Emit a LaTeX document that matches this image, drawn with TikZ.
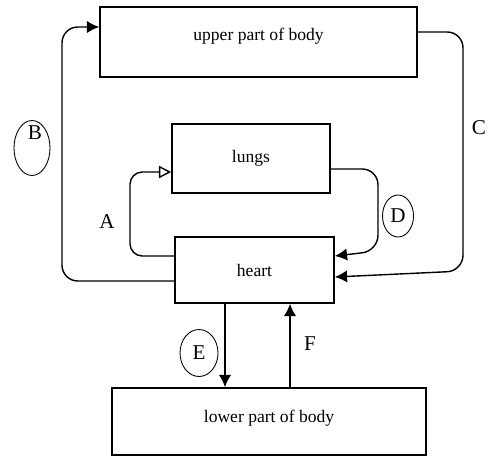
\documentclass[tikz,border=0pt]{standalone}
\usepackage{fontspec}
\setmainfont{Liberation Serif}
\usetikzlibrary{arrows.meta}
\usetikzlibrary{shapes.geometric}
\usetikzlibrary{positioning}

\begin{document}
\begin{tikzpicture}[x=0.02cm, y=-0.02cm, organ/.style={rectangle, draw, line width=0.9pt, minimum width=#1, inner sep=0pt}, flow/.style={line width=0.8pt, rounded corners=9pt, -{Latex[length=7pt,width=7pt]}}, openflow/.style={line width=0.8pt, rounded corners=7pt, -{Triangle[open,length=7pt,width=7pt]}}, ring/.style={ellipse, draw, line width=0.5pt, inner sep=1pt}, tag/.style={font=\large}]
\useasboundingbox (0,0) rectangle (489,459);
\node [organ=6.34cm, minimum height=1.4cm, text depth=0.3cm] (upper) at (258.5,42) {upper part of body};
\node [organ=3.16cm, minimum height=1.38cm] (lungs) at (251,158.5) {lungs};
\node [organ=3.18cm, minimum height=1.32cm] (heart) at (254.5,270) {heart};
\node [organ=6.28cm, minimum height=1.34cm, text depth=0.22cm] (lower) at (269,421.5) {lower part of body};
% pulmonary loop
\draw [openflow] (heart.west |- 0,256) -| (130,172) -- (lungs.west |- 0,172);
\draw [flow] (lungs.east |- 0,169) -| (378,251) -- (heart.east |- 0,256);
% upper body loop
\draw [flow] (heart.west |- 0,281) -| (62,27) -- (upper.west |- 0,27);
\draw [flow] (upper.east |- 0,32) -| (463,271) -- (heart.east |- 0,277);
% lower body loop
\draw [flow] (heart.south -| 225,0) -- (lower.north -| 225,0);
\draw [flow] (lower.north -| 290,0) -- (heart.south -| 290,0);
% labels
\node [ring, minimum width=0.72cm, minimum height=1.1cm] (labB) at (32,148) {};
\node [tag] (B) at (35,133) {B};
\node [tag, inner sep=1pt] (C) at (479,128) {C};
\node [tag] (A) at (107,222) {A};
\node [ring, tag, minimum width=0.62cm, minimum height=0.84cm] (D) at (398,216) {D};
\node [ring, tag, minimum width=0.76cm, minimum height=0.94cm] (E) at (199,353) {E};
\node [tag] (F) at (310,344) {F};
\end{tikzpicture}
\end{document}
